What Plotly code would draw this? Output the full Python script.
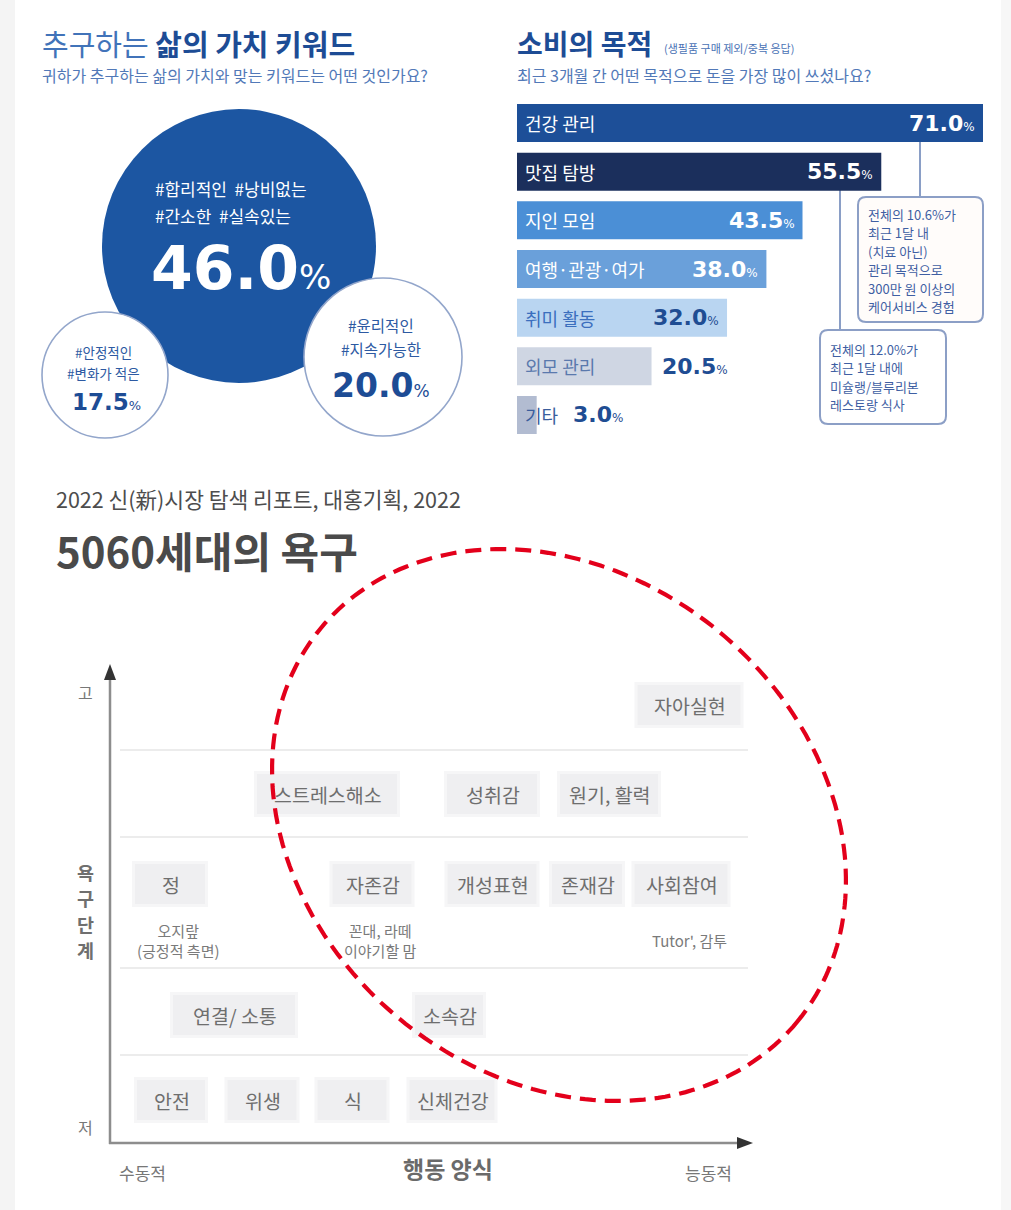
import numpy as np
import plotly.graph_objects as go

# ---------------- data ----------------
# 추구하는 삶의 가치 키워드
value_tags = [
    ["#합리적인  #낭비없는", "#간소한  #실속있는"],
    ["#윤리적인", "#지속가능한"],
    ["#안정적인", "#변화가 적은"],
]
value_shares = [46.0, 20.0, 17.5]

# 소비의 목적
purpose_labels = ["건강 관리", "맛집 탐방", "지인 모임", "여행·관광·여가", "취미 활동", "외모 관리", "기타"]
purpose_shares = [71.0, 55.5, 43.5, 38.0, 32.0, 20.5, 3.0]
care_note = ["전체의 10.6%가", "최근 1달 내", "(치료 아닌)", "관리 목적으로", "300만 원 이상의", "케어서비스 경험"]
dining_note = ["전체의 12.0%가", "최근 1달 내에", "미슐랭/블루리본", "레스토랑 식사"]

# 5060세대의 욕구 (욕구 단계: 저 -> 고)
need_tiers = [
    ["안전", "위생", "식", "신체건강"],
    ["연결/ 소통", "소속감"],
    ["정", "자존감", "개성표현", "존재감", "사회참여"],
    ["스트레스해소", "성취감", "원기, 활력"],
    ["자아실현"],
]
need_notes = {
    "정": ["오지랖", "(긍정적 측면)"],
    "자존감": ["꼰대, 라떼", "이야기할 맘"],
    "사회참여": ["Tutor', 감투"],
}

# ---------------- style / layout ----------------
W, H = 1011, 1210
KR = "Noto Sans CJK KR"
NUM = "DejaVu Sans"
NAVY = "#1d4c95"

bubble_xy = [(239, 246), (383, 357), (105, 375)]
bubble_d = [274, 158, 126]
bubble_fill = ["#1c56a2", "#ffffff", "#ffffff"]

bar_colors = ["#1d4f98", "#1b2f5c", "#4b8fd6", "#6aa0da", "#b9d5f1", "#cfd6e3", "#b2bcd1"]
bar_label_colors = ["#ffffff"] * 4 + ["#3b6fbe", "#5a79ad", "#3a5d9c"]
bar_value_colors = ["#ffffff"] * 4 + ["#1f4d93"] * 3
BAR_LEFT, BAR_RIGHT = 517, 983
BAR_TOP, BAR_BOTTOM = 98.7, 439.3
BAR_LABEL_SIZE = 18

TIER_Y = [1100, 1015, 884, 794, 705]
BOX_X = [[171, 262, 352, 452], [234, 449], [170, 372, 492, 587, 681], [327, 492, 609], [689]]
BOX_W = [[68, 69, 69, 85], [122, 68], [70, 79, 89, 70, 93], [140, 90, 98], [103]]
BOX_H = 40
ROW_LINES = [750, 837, 968, 1055]

fig = go.Figure()
shapes = []
ann = []


def text(x, y, s, size, color, family=KR, xanchor="center", yanchor="middle",
         align="center", xref="x", yref="y", **kw):
    ann.append(dict(x=x, y=y, text=s, xref=xref, yref=yref, showarrow=False,
                    xanchor=xanchor, yanchor=yanchor, align=align,
                    font=dict(family=family, size=size, color=color), **kw))


def rounded(x0, y0, x1, y1, r):
    return (f"M{x0+r},{y0} L{x1-r},{y0} Q{x1},{y0} {x1},{y0+r} L{x1},{y1-r} "
            f"Q{x1},{y1} {x1-r},{y1} L{x0+r},{y1} Q{x0},{y1} {x0},{y1-r} "
            f"L{x0},{y0+r} Q{x0},{y0} {x0+r},{y0} Z")


def pct(v, small):
    return f"<b>{v:.1f}</b><span style='font-size:{small}px'>%</span>"


# page edge tint
shapes.append(dict(type="rect", xref="x", yref="y", x0=0, x1=15, y0=0, y1=H,
                   fillcolor="#f4f4f4", line=dict(width=0), layer="below"))
shapes.append(dict(type="rect", xref="x", yref="y", x0=1001, x1=W, y0=0, y1=H,
                   fillcolor="#f7f7f7", line=dict(width=0), layer="below"))

# ---------------- 추구하는 삶의 가치 키워드 ----------------
text(40, 43, "<span style='color:#4173b9'>추구하는</span> <b>삶의 가치 키워드</b>", 29, NAVY,
     xanchor="left")
text(40, 75, "귀하가 추구하는 삶의 가치와 맞는 키워드는 어떤 것인가요?", 16, "#5279b8",
     xanchor="left")

fig.add_trace(go.Scatter(
    x=[p[0] for p in bubble_xy], y=[p[1] for p in bubble_xy], mode="markers",
    marker=dict(size=bubble_d, color=bubble_fill, opacity=1,
                line=dict(color=["#1c56a2", "#93a6cb", "#93a6cb"], width=[0, 1.6, 1.6])),
    xaxis="x", yaxis="y", hoverinfo="skip", showlegend=False))

# large bubble
text(153, 188, value_tags[0][0], 17, "#ffffff", xanchor="left")
text(153, 215, value_tags[0][1], 17, "#ffffff", xanchor="left")
text(149, 268, pct(value_shares[0], 34), 60, "#ffffff", family=NUM, xanchor="left")
# right bubble
text(381, 325, value_tags[1][0], 15.5, "#2d5aa2")
text(381, 349, value_tags[1][1], 15.5, "#2d5aa2")
text(381, 385, pct(value_shares[1], 17), 33, NAVY, family=NUM)
# left bubble
text(103, 352, value_tags[2][0], 13.5, "#2d5aa2")
text(103, 373, value_tags[2][1], 13.5, "#2d5aa2")
text(106, 402, pct(value_shares[2], 13), 23, NAVY, family=NUM)

# ---------------- 소비의 목적 ----------------
text(515, 43, "<b>소비의 목적</b>", 28, NAVY, xanchor="left")
text(662, 48, "(생필품 구매 제외/중복 응답)", 11, "#4a72b5", xanchor="left")
text(515, 75, "최근 3개월 간 어떤 목적으로 돈을 가장 많이 쓰셨나요?", 16, "#5279b8",
     xanchor="left")

fig.add_trace(go.Bar(
    y=purpose_labels, x=purpose_shares, orientation="h", width=0.78,
    marker=dict(color=bar_colors, line=dict(width=0)),
    xaxis="x2", yaxis="y2", hoverinfo="skip", showlegend=False))

px_per_unit = (BAR_RIGHT - BAR_LEFT) / max(purpose_shares)
for lab, v, lc, vc in zip(purpose_labels, purpose_shares, bar_label_colors, bar_value_colors):
    text(0, lab, lab, BAR_LABEL_SIZE, lc, xanchor="left", xref="x2", yref="y2", xshift=6)
    if v >= 30:
        text(v, lab, pct(v, 12), 22, vc, family=NUM, xanchor="right",
             xref="x2", yref="y2", xshift=-6)
    else:
        # outside the bar, but never on top of the category name
        name_px = 6 + BAR_LABEL_SIZE * len(lab.replace(" ", "")) + 4
        x_at = max(v, name_px / px_per_unit)
        text(x_at, lab, pct(v, 12), 22, vc, family=NUM, xanchor="left",
             xref="x2", yref="y2", xshift=8)

# call-out boxes
LEAD = "#6d86b8"
NOTE_STEP = 18.5
shapes.append(dict(type="line", xref="x", yref="y", x0=920, x1=920, y0=142, y1=197,
                   line=dict(color=LEAD, width=1.6), layer="below"))
shapes.append(dict(type="line", xref="x", yref="y", x0=840, x1=840, y0=190, y1=330,
                   line=dict(color=LEAD, width=1.6), layer="below"))
shapes.append(dict(type="path", xref="x", yref="y", path=rounded(858, 197, 983, 322, 8),
                   fillcolor="#fffcfa", line=dict(color="#8c9fc6", width=2)))
shapes.append(dict(type="path", xref="x", yref="y", path=rounded(820, 330, 946, 424, 8),
                   fillcolor="#ffffff", line=dict(color="#8c9fc6", width=2)))
for i, line in enumerate(care_note):
    text(866, 214 + NOTE_STEP * i, line, 13, "#3f5fa3", xanchor="left")
for i, line in enumerate(dining_note):
    text(828, 349 + NOTE_STEP * i, line, 13, "#3f5fa3", xanchor="left")

# ---------------- 5060세대의 욕구 ----------------
text(54, 498, "2022 신(新)시장 탐색 리포트, 대홍기획, 2022", 21.5, "#4d4d4d", xanchor="left")
text(54, 549, "<b>5060세대의 욕구</b>", 42, "#4a4a4a", xanchor="left")

for yl in ROW_LINES:
    shapes.append(dict(type="line", xref="x", yref="y", x0=120, x1=748, y0=yl, y1=yl,
                       line=dict(color="#ececec", width=2), layer="below"))

for tier, ty, xs, ws in zip(need_tiers, TIER_Y, BOX_X, BOX_W):
    for lab, bx, bw in zip(tier, xs, ws):
        shapes.append(dict(type="rect", xref="x", yref="y",
                           x0=bx - bw / 2 - 3, x1=bx + bw / 2 + 3,
                           y0=ty - BOX_H / 2 - 3, y1=ty + BOX_H / 2 + 3,
                           fillcolor="#f6f6f7", line=dict(width=0), layer="below"))
        shapes.append(dict(type="rect", xref="x", yref="y",
                           x0=bx - bw / 2, x1=bx + bw / 2,
                           y0=ty - BOX_H / 2, y1=ty + BOX_H / 2,
                           fillcolor="#efeff1", line=dict(width=0), layer="below"))
        text(bx + 1, ty, lab, 19.5, "#6e6e6e")
        if lab in need_notes:
            text(bx + 8, ty + 56, "<br>".join(need_notes[lab]), 15, "#7a7a7a")

# axes with arrowheads
AX = "#8d8d8d"
shapes.append(dict(type="line", xref="x", yref="y", x0=110, x1=110, y0=676, y1=1144,
                   line=dict(color=AX, width=2.5)))
shapes.append(dict(type="line", xref="x", yref="y", x0=109, x1=742, y0=1143, y1=1143,
                   line=dict(color=AX, width=2.5)))
shapes.append(dict(type="path", xref="x", yref="y", path="M110,664 L104,680 L116,680 Z",
                   fillcolor="#333333", line=dict(width=0)))
shapes.append(dict(type="path", xref="x", yref="y", path="M753,1143 L737,1137 L737,1149 Z",
                   fillcolor="#333333", line=dict(width=0)))

text(85, 692, "고", 16, "#777777")
text(85, 1127, "저", 16, "#777777")
# vertical axis title, one syllable per row
for i, ch in enumerate("욕구단계"):
    text(85, 872 + 26 * i, f"<b>{ch}</b>", 18.5, "#6f6f6f")
text(142, 1172, "수동적", 17, "#777777")
text(448, 1168, "<b>행동 양식</b>", 23, "#6a6a6a")
text(708, 1172, "능동적", 17, "#777777")

# dashed focus ellipse
cx, cy, A, B, th = 559, 825, 309, 251, np.deg2rad(39.5)
t = np.linspace(0, 2 * np.pi, 241)
ex = cx + A * np.cos(t) * np.cos(th) - B * np.sin(t) * np.sin(th)
ey = cy + A * np.cos(t) * np.sin(th) + B * np.sin(t) * np.cos(th)
epath = "M" + " L".join(f"{a:.1f},{b:.1f}" for a, b in zip(ex, ey)) + " Z"
shapes.append(dict(type="path", xref="x", yref="y", path=epath, layer="above",
                   line=dict(color="#e3001b", width=4.2, dash="16px,9px")))

fig.update_layout(
    width=W, height=H, autosize=False,
    margin=dict(l=0, r=0, t=0, b=0),
    paper_bgcolor="#ffffff", plot_bgcolor="rgba(0,0,0,0)",
    showlegend=False, hovermode=False,
    xaxis=dict(domain=[0, 1], range=[0, W], visible=False, fixedrange=True),
    yaxis=dict(domain=[0, 1], range=[H, 0], visible=False, fixedrange=True),
    xaxis2=dict(domain=[BAR_LEFT / W, BAR_RIGHT / W], range=[0, max(purpose_shares)],
                visible=False, fixedrange=True, anchor="y2"),
    yaxis2=dict(domain=[1 - BAR_BOTTOM / H, 1 - BAR_TOP / H], visible=False,
                fixedrange=True, anchor="x2", type="category",
                categoryorder="array", categoryarray=purpose_labels, autorange="reversed"),
    shapes=shapes, annotations=ann,
    font=dict(family=KR),
)

fig.write_html("out.html", config={"displayModeBar": False})
